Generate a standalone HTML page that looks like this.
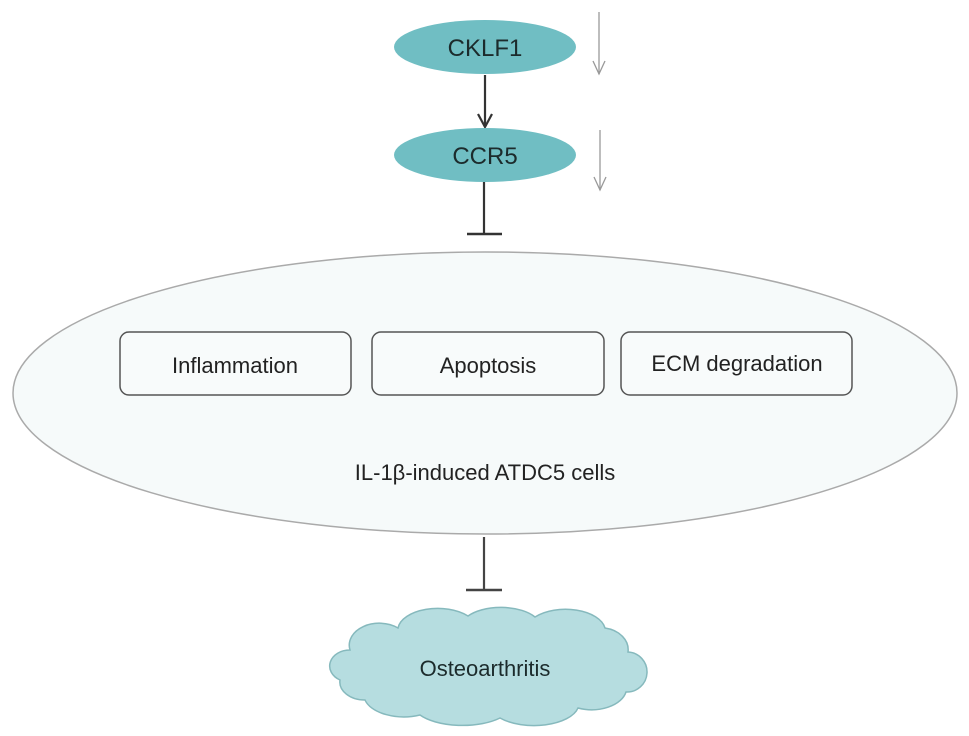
<!DOCTYPE html>
<html><head><meta charset="utf-8"><style>
html,body{margin:0;padding:0;background:#fff;}
svg{display:block;font-family:"Liberation Sans",Arial,sans-serif;}
</style></head><body>
<svg width="969" height="736" viewBox="0 0 969 736" xmlns="http://www.w3.org/2000/svg">
<!-- top ellipses -->
<ellipse cx="485" cy="47" rx="91" ry="27" fill="#70bec3"/>
<text x="485" y="56" font-size="24" text-anchor="middle" fill="#1c2b2c">CKLF1</text>
<line x1="485" y1="75" x2="485" y2="126" stroke="#333" stroke-width="2.2"/>
<path d="M478,114 L485,127 L492,114" fill="none" stroke="#333" stroke-width="2.2"/>
<ellipse cx="485" cy="155" rx="91" ry="27" fill="#70bec3"/>
<text x="485" y="164" font-size="24" text-anchor="middle" fill="#1c2b2c">CCR5</text>
<!-- gray arrows -->
<line x1="599" y1="12" x2="599" y2="74" stroke="#999" stroke-width="1.3"/>
<path d="M593,61 L599,74 L605,61" fill="none" stroke="#999" stroke-width="1.3"/>
<line x1="600" y1="130" x2="600" y2="190" stroke="#999" stroke-width="1.3"/>
<path d="M594,177 L600,190 L606,177" fill="none" stroke="#999" stroke-width="1.3"/>
<!-- T bar 1 -->
<line x1="484" y1="182" x2="484" y2="234" stroke="#333" stroke-width="2.2"/>
<line x1="467" y1="234" x2="502" y2="234" stroke="#333" stroke-width="2.5"/>
<!-- big ellipse -->
<ellipse cx="485" cy="393" rx="472" ry="141" fill="#f6fafa" stroke="#aaa" stroke-width="1.5"/>
<rect x="120" y="332" width="231" height="63" rx="9" fill="#f8fbfb" stroke="#555" stroke-width="1.5"/>
<text x="235" y="373" font-size="22" text-anchor="middle" fill="#222">Inflammation</text>
<rect x="372" y="332" width="232" height="63" rx="9" fill="#f8fbfb" stroke="#555" stroke-width="1.5"/>
<text x="488" y="373" font-size="22" text-anchor="middle" fill="#222">Apoptosis</text>
<rect x="621" y="332" width="231" height="63" rx="9" fill="#f8fbfb" stroke="#555" stroke-width="1.5"/>
<text x="737" y="371" font-size="22" text-anchor="middle" fill="#222">ECM degradation</text>
<text x="485" y="480" font-size="22" text-anchor="middle" fill="#222">IL-1β-induced ATDC5 cells</text>
<!-- T bar 2 -->
<line x1="484" y1="537" x2="484" y2="590" stroke="#444" stroke-width="2.2"/>
<line x1="466" y1="590" x2="502" y2="590" stroke="#444" stroke-width="2.5"/>
<!-- cloud -->
<path d="M350,650 A30,22 0 0 1 398,628 A40,22 0 0 1 468,616 A40,20 0 0 1 535,617 A40,22 0 0 1 605,628 A28,22 0 0 1 628,652 A20,20 0 0 1 626,692 A35,22 0 0 1 578,708 A45,22 0 0 1 500,718 A50,22 0 0 1 420,715 A40,22 0 0 1 365,700 A25,18 0 0 1 340,680 A20,16 0 0 1 350,650 Z" fill="#b6dde0" stroke="#86b9bd" stroke-width="1.5"/>
<text x="485" y="676" font-size="22" text-anchor="middle" fill="#1c2b2c">Osteoarthritis</text>
</svg>
</body></html>
